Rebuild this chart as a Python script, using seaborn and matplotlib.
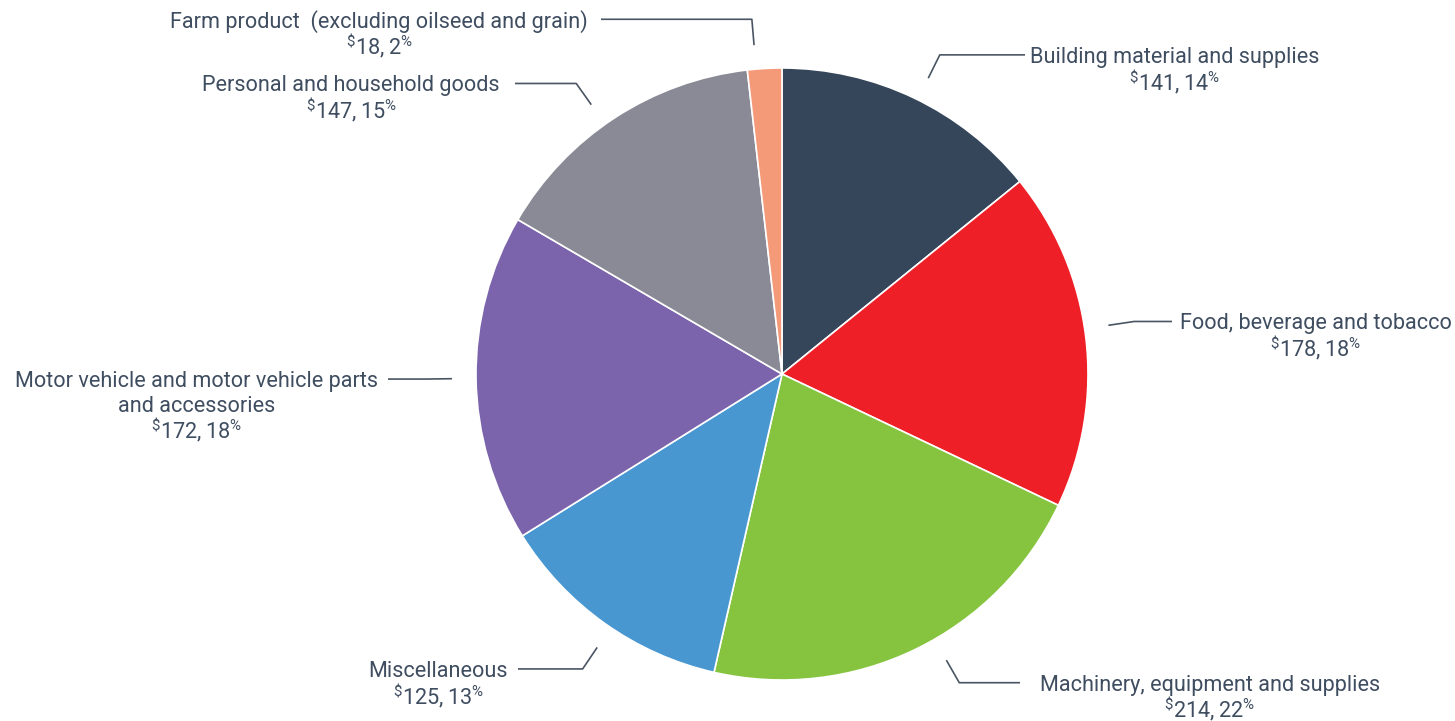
import matplotlib
matplotlib.use("Agg")
import matplotlib.pyplot as plt
import numpy as np
import seaborn as sns

# Sales by merchant wholesaler category ($ billions) and share of total
categories = [
    "Building material and supplies",
    "Food, beverage and tobacco",
    "Machinery, equipment and supplies",
    "Miscellaneous",
    "Motor vehicle and motor vehicle parts\nand accessories",
    "Personal and household goods",
    "Farm product  (excluding oilseed and grain)",
]
values = [141, 178, 214, 125, 172, 147, 18]
shares = [14, 18, 22, 13, 18, 15, 2]
colors = ["#35465a", "#ee1f26", "#86c440", "#4897d1", "#7b64ab", "#898a95", "#f59a79"]

# label placement (pixels): side, leader end, text edge, leader angle nudge (deg)
label_side = ["right", "right", "right", "left", "left", "left", "left"]
line_end_x = [1025, 1172, 1020, 518, 388, 515, 601]
text_x = [1030, 1180, 1040, 508, 378, 500, 588]
angle_nudge = [-0.8, 1.7, 4.0, 1.4, 0.0, 2.2, 1.6]

W, H = 1455, 721
CX, CY, R = 782, H - 374, 306
TEXT_COLOR = "#3f4d60"
LINE_COLOR = "#4a5563"
FS = 15.6
LINE_STEP = 24.5
VALUE_STEP = 23.5

sns.set_theme(style="white")
plt.rcParams["font.family"] = ["Roboto", "DejaVu Sans"]

fig = plt.figure(figsize=(W / 100, H / 100), dpi=100)
ax = fig.add_axes([0, 0, 1, 1])
wedges, _ = ax.pie(
    values, colors=colors, startangle=90, counterclock=False,
    center=(CX, CY), radius=R,
    wedgeprops=dict(edgecolor="white", linewidth=1.2),
)
ax.set_xlim(0, W)
ax.set_ylim(0, H)
ax.set_aspect("equal")
ax.axis("off")

fig.canvas.draw()
renderer = fig.canvas.get_renderer()

for w, name, val, pct, side, lx, tx, nudge in zip(
        wedges, categories, values, shares, label_side, line_end_x, text_x,
        angle_nudge):
    mid = np.deg2rad((w.theta1 + w.theta2) / 2 + nudge)
    ux, uy = np.cos(mid), np.sin(mid)
    p0 = (CX + 330 * ux, CY + 330 * uy)
    p1 = (CX + 356 * ux, CY + 356 * uy)
    ax.plot([p0[0], p1[0], lx], [p0[1], p1[1], p1[1]],
            color=LINE_COLOR, lw=1.2, solid_capstyle="butt")

    ha = "left" if side == "right" else "right"
    lines = name.split("\n")
    texts = []
    for i, ln in enumerate(lines):
        texts.append(ax.text(tx, p1[1] - LINE_STEP * i, ln, ha=ha,
                             va="center_baseline", fontsize=FS,
                             color=TEXT_COLOR))
    widths = [t.get_window_extent(renderer).width for t in texts]
    block_w = max(widths)
    xc = tx + block_w / 2 if side == "right" else tx - block_w / 2
    for t in texts:
        t.set_x(xc)
        t.set_ha("center")
    ax.text(xc, p1[1] - LINE_STEP * (len(lines) - 1) - VALUE_STEP,
            r"$\mathregular{^{\$}" + f"{val}," + f"{pct}" + r"^{\%}}$",
            ha="center", va="center_baseline", fontsize=FS,
            color=TEXT_COLOR)

fig.savefig("out.png", dpi=100, facecolor="white")
